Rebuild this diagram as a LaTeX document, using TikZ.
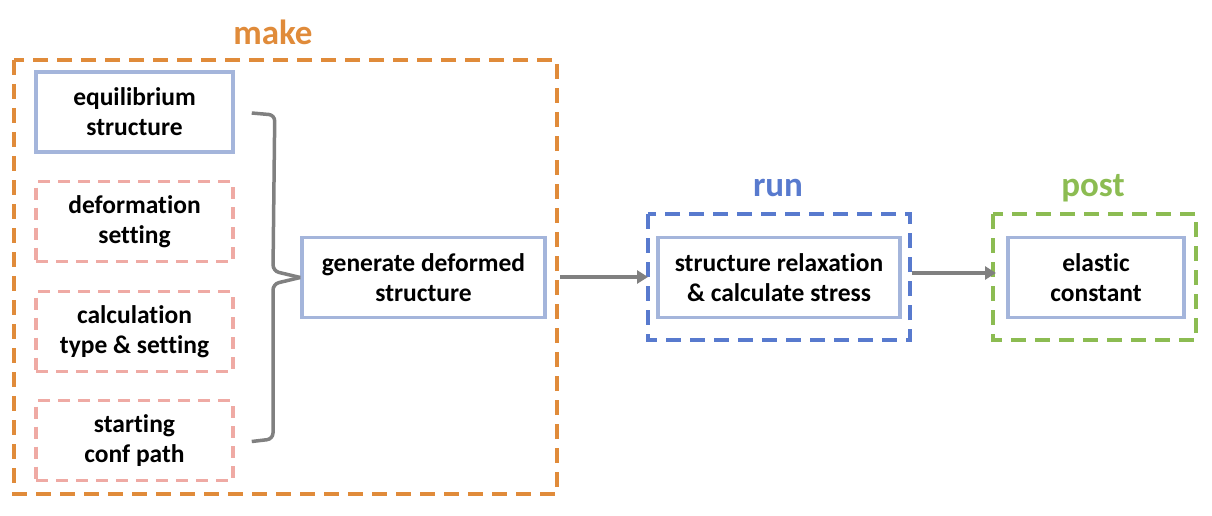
\documentclass[tikz,border=0pt]{standalone}
\usepackage{fontspec}
\setmainfont{Carlito}[Ligatures={NoCommon,NoDiscretionary,NoContextual}]
\usetikzlibrary{positioning,calc,arrows.meta}
\definecolor{orng}{RGB}{224,139,58}
\definecolor{lblue}{RGB}{164,181,219}
\definecolor{pnk}{RGB}{239,170,164}
\definecolor{rblue}{RGB}{88,122,206}
\definecolor{grn}{RGB}{140,188,82}
\definecolor{gry}{RGB}{128,128,128}
\tikzset{
  solidbox/.style={draw=lblue,line width=3.5pt,minimum width=197pt,minimum height=80pt,align=center,font=\bfseries\fontsize{25.5}{30}\selectfont,inner sep=0pt},
  pinkbox/.style={solidbox,draw=pnk,dash pattern=on 12pt off 8pt},
  group/.style={draw,line width=3.5pt,dash pattern=on 15pt off 9pt},
  grouplabel/.style={font=\bfseries\fontsize{35}{40}\selectfont},
  conn/.style={draw=gry,line width=3.5pt,-{Triangle[length=11pt,width=13pt]}},
}
\begin{document}
\begin{tikzpicture}[x=1pt,y=-1pt]
\useasboundingbox (0,0) rectangle (1212,516);
% make group
\draw[group,draw=orng] (14,60) rectangle (557,494);
\node[grouplabel,text=orng] (makel) at (273,32) {make};
\node[solidbox] (eq) at (134.5,112) {equilibrium\\structure};
\node[pinkbox] (def) at (134.5,221.5) {deformation\\setting};
\node[pinkbox] (calc) at (134.5,331.5) {calculation\\type \& setting};
\node[pinkbox] (start) at (134.5,440.5) {starting\\conf path};
\node[solidbox,minimum width=243pt] (gen) at (423.5,277.5) {generate deformed\\structure};
% brace
\coordinate (bt) at ($(eq.east)+(17,1)$);
\coordinate (bb) at ($(start.east)+(17,1)$);
\draw[gry,line width=3.5pt,rounded corners=6pt]
  (bt) -- ++(23,2) -- (273,271) -- (gen.west) ;
\draw[gry,line width=3.5pt,rounded corners=6pt]
  (gen.west) -- (273,284) -- (273,439) -- (bb);
% run group
\draw[group,draw=rblue] (648,214) rectangle (910,340);
\node[grouplabel,text=rblue] (runl) at (778,188) {run};
\node[solidbox,minimum width=242pt] (relax) at (779,277.5) {structure relaxation\\\& calculate stress};
% post group
\draw[group,draw=grn] (993,214) rectangle (1196,340);
\node[grouplabel,text=grn] (postl) at (1093,188) {post};
\node[solidbox,minimum width=176pt] (el) at (1096,277.5) {elastic\\constant};
\coordinate (a1s) at (560,277);
\coordinate (a1e) at (648,277);
\coordinate (a2s) at (912,273);
\coordinate (a2e) at (996,273);
\draw[conn] (a1s) -- (a1e);
\draw[conn] (a2s) -- (a2e);
\end{tikzpicture}
\end{document}
